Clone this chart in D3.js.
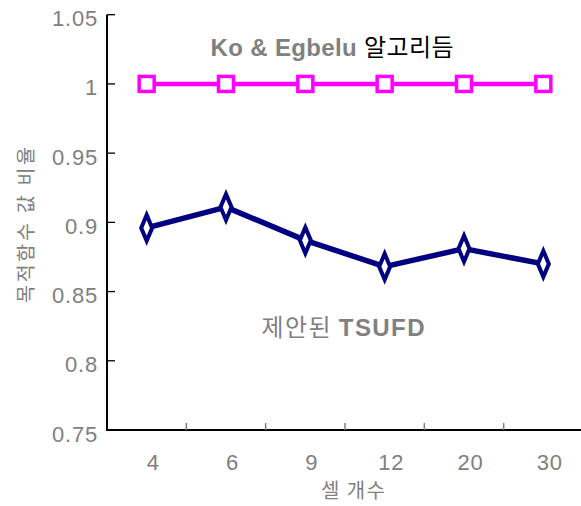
<!DOCTYPE html>
<html><head><meta charset="utf-8">
<script src="https://cdn.jsdelivr.net/npm/d3@7/dist/d3.min.js"></script>
<style>body{margin:0;background:#fff}svg{display:block}</style>
</head><body>
<script>
const categories = ["4","6","9","12","20","30"];
const koValues = [1,1,1,1,1,1];
const tsufdValues = [0.896,0.911,0.887,0.868,0.881,0.870];
const yTicks = [0.75,0.8,0.85,0.9,0.95,1,1.05];
const yTickLabels = ["0.75","0.8","0.85","0.9","0.95","1","1.05"];

const W=581,H=506;
const svg=d3.select("body").append("svg").attr("width",W).attr("height",H);
const x=d3.scaleBand().domain(categories).range([107,583]);
const y=d3.scaleLinear().domain([0.75,1.05]).range([430,14.7]);
const gray="#808080";
const font="'Liberation Sans', Arial, sans-serif";
const kfont="'Noto Sans CJK KR', sans-serif";

// y axis
svg.append("line").attr("x1",107).attr("x2",107).attr("y1",y(1.05)).attr("y2",y(0.75)+1).attr("stroke","#000").attr("stroke-width",2);
svg.selectAll(".yt").data(yTicks).enter().append("line")
  .attr("x1",107).attr("x2",115).attr("y1",d=>y(d)).attr("y2",d=>y(d)).attr("stroke","#000").attr("stroke-width",1.3);
svg.selectAll(".yl").data(yTicks).enter().append("text")
  .attr("x",98).attr("y",d=>y(d)+11.5).attr("text-anchor","end")
  .attr("font-family",font).attr("font-size",22).attr("letter-spacing",0.8).attr("fill",gray)
  .text((d,i)=>yTickLabels[i]);

// x axis
svg.append("line").attr("x1",106).attr("x2",581).attr("y1",430).attr("y2",430).attr("stroke","#000").attr("stroke-width",2);
svg.selectAll(".xt").data(categories.slice(1)).enter().append("line")
  .attr("x1",d=>x(d)).attr("x2",d=>x(d)).attr("y1",430).attr("y2",423).attr("stroke",gray).attr("stroke-width",1.5);
svg.selectAll(".xl").data(categories).enter().append("text")
  .attr("x",d=>x(d)+x.bandwidth()/2+6.5).attr("y",470).attr("text-anchor","middle")
  .attr("font-family",font).attr("font-size",22).attr("letter-spacing",0.8).attr("fill",gray).text(d=>d);

// axis titles
svg.append("text").attr("x",353).attr("y",498).attr("text-anchor","middle")
  .attr("font-family",kfont).attr("font-size",20).attr("fill",gray)
  .attr("textLength",64).attr("lengthAdjust","spacing").text("셀 개수");
svg.append("text").attr("transform","translate(33,225) rotate(-90)").attr("text-anchor","middle")
  .attr("font-family",kfont).attr("font-size",19.5).attr("fill",gray)
  .attr("textLength",156).attr("lengthAdjust","spacing").text("목적함수 값 비율");

const cx=d=>x(d)+x.bandwidth()/2;
// Ko line
svg.append("path").datum(koValues).attr("fill","none").attr("stroke","#FF00FF").attr("stroke-width",4.5)
  .attr("d",d3.line().x((d,i)=>cx(categories[i])).y(d=>y(d)));
svg.selectAll(".sq").data(koValues).enter().append("rect")
  .attr("x",(d,i)=>cx(categories[i])-7.5).attr("y",d=>y(d)-7.5).attr("width",15).attr("height",15)
  .attr("fill","#fff").attr("stroke","#FF00FF").attr("stroke-width",3.5);

// TSUFD line
svg.append("path").datum(tsufdValues).attr("fill","none").attr("stroke","#000080").attr("stroke-width",5.5)
  .attr("stroke-linejoin","round")
  .attr("d",d3.line().x((d,i)=>cx(categories[i])).y(d=>y(d)));
svg.selectAll(".dm").data(tsufdValues).enter().append("path")
  .attr("transform",(d,i)=>`translate(${cx(categories[i])},${y(d)})`)
  .attr("d","M0,-13 L5.5,0 L0,13 L-5.5,0 Z")
  .attr("fill","#fff").attr("stroke","#000080").attr("stroke-width",4).attr("stroke-linejoin","miter");

// annotations
const t1=svg.append("text").attr("x",332).attr("y",56).attr("text-anchor","middle").attr("font-size",24)
  .attr("textLength",243).attr("lengthAdjust","spacing");
t1.append("tspan").attr("font-family",font).attr("font-weight","bold").attr("fill",gray).text("Ko & Egbelu ");
t1.append("tspan").attr("font-family",kfont).attr("fill","#000").text("알고리듬");
const t2=svg.append("text").attr("x",343).attr("y",336).attr("text-anchor","middle").attr("font-size",24)
  .attr("textLength",163).attr("lengthAdjust","spacing");
t2.append("tspan").attr("font-family",kfont).attr("fill",gray).text("제안된 ");
t2.append("tspan").attr("font-family",font).attr("font-weight","bold").attr("fill",gray).text("TSUFD");
</script>
</body></html>
